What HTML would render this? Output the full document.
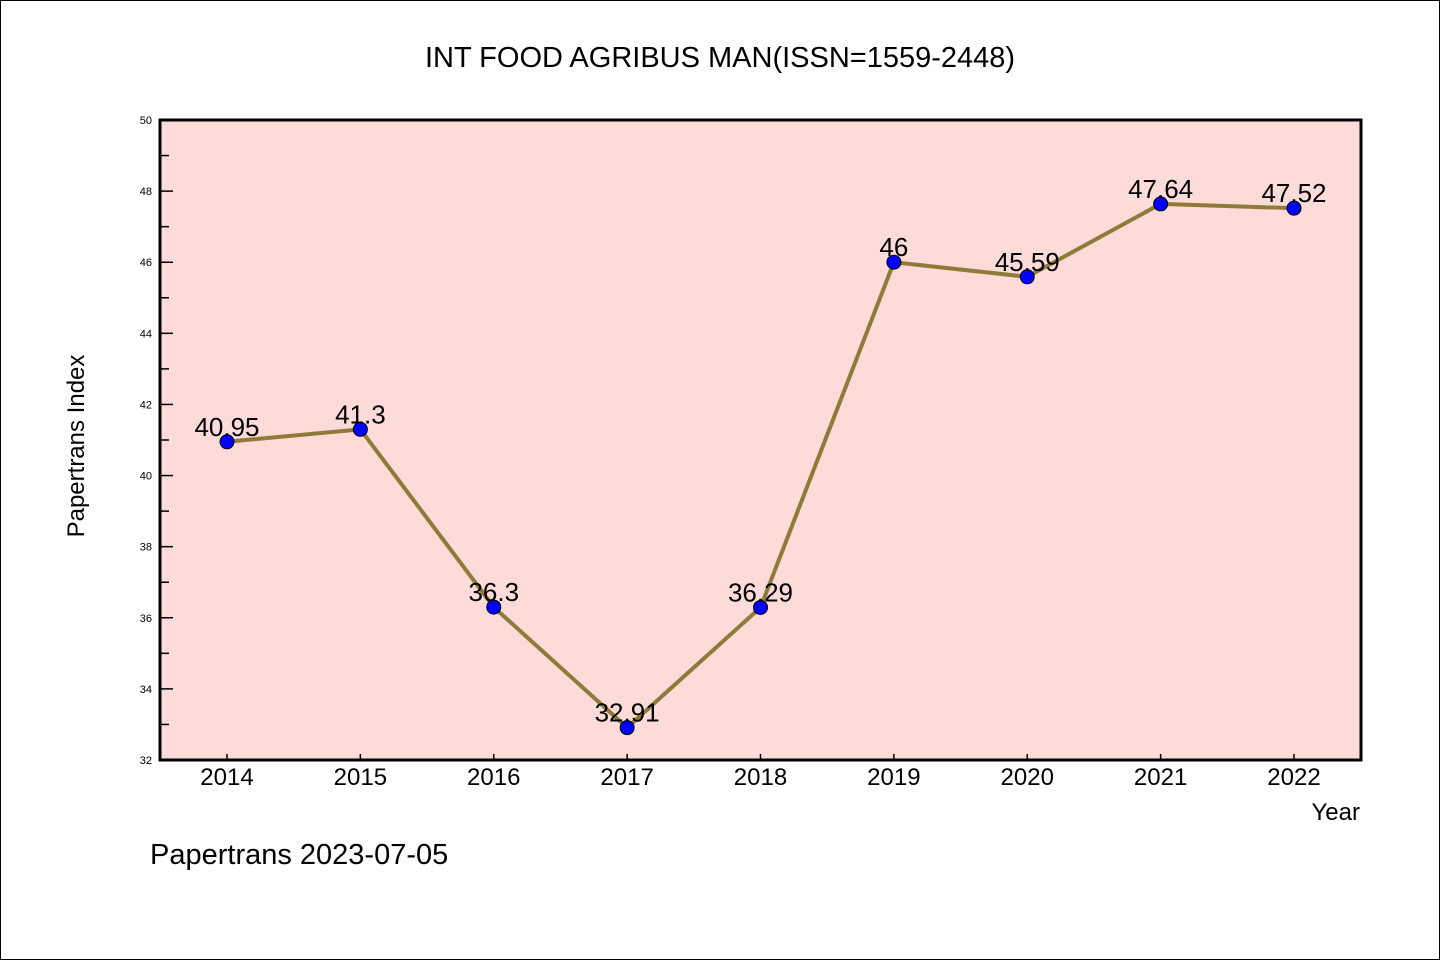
<!DOCTYPE html>
<html><head><meta charset="utf-8"><style>
html,body{margin:0;padding:0;background:#fff}
svg{display:block}
text{font-family:"WenQuanYi Zen Hei","Liberation Sans",sans-serif}
</style></head><body>
<svg id="chart" width="1440" height="960" xmlns="http://www.w3.org/2000/svg">
<rect x="0.5" y="0.5" width="1439" height="959" fill="#fff" stroke="#000" stroke-width="1"/>
<text x="720" y="67" font-size="29" text-anchor="middle">INT FOOD AGRIBUS MAN(ISSN=1559-2448)</text>
<rect x="160" y="120" width="1201" height="640" fill="#fddbd8"/>
<g id="yaxis"></g>
<g id="xaxis"></g>
<g id="series"></g>
<rect x="160" y="120" width="1201" height="640" fill="none" stroke="#000" stroke-width="3"/>
<text transform="translate(84,446) rotate(-90)" font-size="24" text-anchor="middle">Papertrans Index</text>
<text x="1360" y="820" font-size="24" text-anchor="end">Year</text>
<text x="150" y="864" font-size="29">Papertrans 2023-07-05</text>
</svg>
<script>
const years = ["2014","2015","2016","2017","2018","2019","2020","2021","2022"];
const values = [40.95, 41.3, 36.3, 32.91, 36.29, 46, 45.59, 47.64, 47.52];
const valueLabels = ["40.95","41.3","36.3","32.91","36.29","46","45.59","47.64","47.52"];
const yTicks = [32,34,36,38,40,42,44,46,48,50];
const NS="http://www.w3.org/2000/svg";
function yS(v){return 760-(v-32)/(50-32)*640;}
function xS(i){return 227+i*(1294-227)/(years.length-1);}
function mk(tag,attrs,parent){const e=document.createElementNS(NS,tag);for(const k in attrs)e.setAttribute(k,attrs[k]);parent.appendChild(e);return e;}
const ya=document.getElementById('yaxis'),xa=document.getElementById('xaxis'),sg=document.getElementById('series');
yTicks.forEach((t,i)=>{
  const y=yS(t);
  const l=mk('line',{x1:160,x2:173,y1:y,y2:y,stroke:'#000','stroke-width':1.5},ya);
  
  
  const tx=mk('text',{x:152,y:y+4,'font-size':11,'text-anchor':'end'},ya);
  tx.textContent=t;
  
  
  if(i<yTicks.length-1){const ym=yS(t+1);
    const m=mk('line',{x1:160,x2:169,y1:ym,y2:ym,stroke:'#000','stroke-width':1.5},ya);
    
    }
});
years.forEach((yr,i)=>{
  const x=xS(i);
  const l=mk('line',{x1:x,x2:x,y1:760,y2:754,stroke:'#000','stroke-width':1.5},xa);
  
  
  const t=mk('text',{x:x,y:785,'font-size':24,'text-anchor':'middle'},xa);
  t.textContent=yr;
  
  
});
const pts=values.map((v,i)=>xS(i)+','+yS(v)).join(' ');
const pl=mk('polyline',{points:pts,fill:'none',stroke:'#8f7a3a','stroke-width':4,'stroke-linejoin':'round'},sg);


values.forEach((v,i)=>{
  const c=mk('circle',{cx:xS(i),cy:yS(v),r:7,fill:'#0000ff',stroke:'#000','stroke-width':1},sg);
  
  
  const t=mk('text',{x:xS(i),y:yS(v)-6,'font-size':26,'text-anchor':'middle'},sg);
  t.textContent=valueLabels[i];
  
  
});
</script>
</body></html>
